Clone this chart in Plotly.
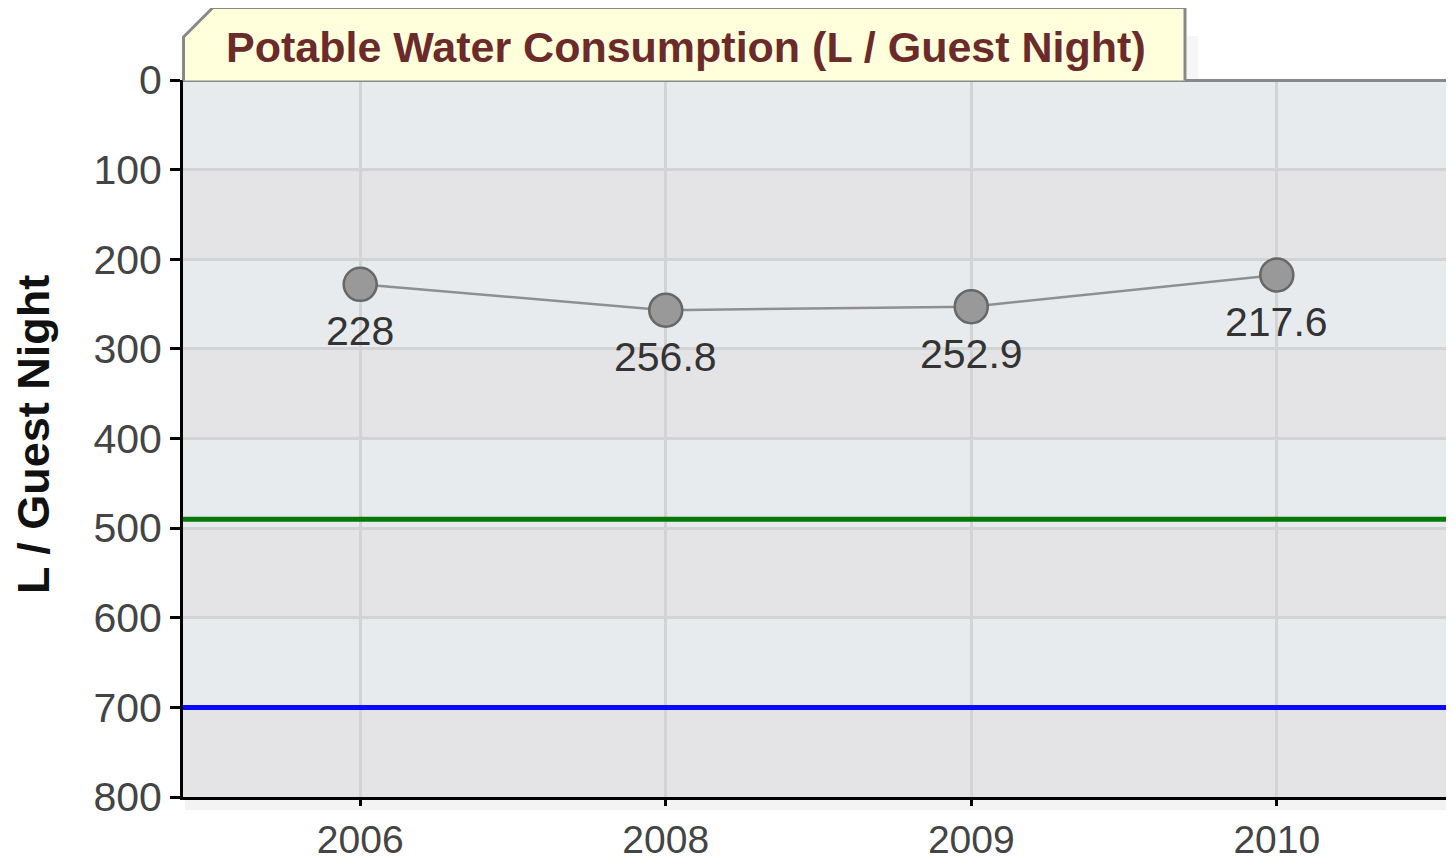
import plotly.graph_objects as go

# ---- data ----
years = ["2006", "2008", "2009", "2010"]
consumption = [228, 256.8, 252.9, 217.6]
consumption_labels = ["228", "256.8", "252.9", "217.6"]
benchmark_green = 490
benchmark_blue = 700
y_ticks = [0, 100, 200, 300, 400, 500, 600, 700, 800]
chart_title = "Potable Water Consumption (L / Guest Night)"
y_title = "L / Guest Night"

# ---- geometry (screen pixels; the page body adds an 8px margin) ----
OFF = 8
SW, SH = 1454, 862
W, H = SW - OFF, SH - OFF
PL, PR, PT, PB = 183, 1454, 80, 797          # plot area on screen
ML, MR, MT = PL - OFF, SW - PR, PT - OFF
MB = H - (PB - OFF)
PW, PH = PR - PL, PB - PT


def px(x):
    return (x - PL) / PW


def py(y):
    return (PB - y) / PH


FONT = "Liberation Sans, Arial, sans-serif"

fig = go.Figure()

fig.add_trace(go.Scatter(
    x=years, y=consumption, mode="lines+markers",
    line=dict(color="#8f8f8f", width=2.5),
    marker=dict(size=33, color="#999999", line=dict(color="#676767", width=2.5)),
    hoverinfo="skip", showlegend=False,
))

shapes = []
# alternating background bands
for i in range(len(y_ticks) - 1):
    shapes.append(dict(
        type="rect", xref="paper", yref="y", x0=0, x1=1,
        y0=y_ticks[i], y1=y_ticks[i + 1],
        fillcolor="#e8ebee" if i % 2 == 0 else "#e4e4e6",
        line=dict(width=0), layer="below",
    ))

# benchmark lines
shapes.append(dict(type="line", xref="paper", yref="y", x0=0, x1=1,
                   y0=benchmark_green, y1=benchmark_green,
                   line=dict(color="#067806", width=5), layer="above"))
shapes.append(dict(type="line", xref="paper", yref="y", x0=0, x1=1,
                   y0=benchmark_blue, y1=benchmark_blue,
                   line=dict(color="#0a0aff", width=5), layer="above"))

# shadow below x axis
shapes.append(dict(type="rect", xref="paper", yref="paper",
                   x0=px(185), x1=1, y0=py(810), y1=py(799),
                   fillcolor="#f3f3f3", line=dict(width=0), layer="below"))

# top border of plot area
shapes.append(dict(type="line", xref="paper", yref="paper", x0=px(183), x1=1,
                   y0=py(80.5), y1=py(80.5),
                   line=dict(color="#888888", width=3)))

# title tab shadow
shapes.append(dict(type="rect", xref="paper", yref="paper",
                   x0=px(1187), x1=px(1198), y0=py(79), y1=py(36),
                   fillcolor="#f6f6f6", line=dict(width=0)))

# title tab with cut corner
pts = [(183.5, 80.5), (183.5, 37), (213, 7.5), (1185, 7.5), (1185, 80.5)]
path = "M " + " L ".join(f"{px(a):.5f},{py(b):.5f}" for a, b in pts)
shapes.append(dict(type="path", xref="paper", yref="paper", path=path,
                   fillcolor="#ffffdc", line=dict(color="#888888", width=3)))

annotations = [
    dict(text=f"<b>{chart_title}</b>", xref="paper", yref="paper",
         x=px(686), y=py(47), xanchor="center", yanchor="middle",
         showarrow=False, font=dict(family=FONT, size=43, color="#6b2b2b")),
    dict(text=f"<b>{y_title}</b>", xref="paper", yref="paper",
         x=px(33), y=py(435), xanchor="center", yanchor="middle",
         textangle=-90, showarrow=False,
         font=dict(family=FONT, size=45, color="#111111")),
]
for i, (v, lab) in enumerate(zip(consumption, consumption_labels)):
    annotations.append(dict(
        text=lab, x=i, y=v, xref="x", yref="y", showarrow=False,
        yshift=-47, xanchor="center", yanchor="middle",
        font=dict(family=FONT, size=41, color="#333333"),
    ))

fig.update_layout(
    width=W, height=H,
    margin=dict(l=ML, r=MR, t=MT, b=MB, autoexpand=False),
    paper_bgcolor="white", plot_bgcolor="#e8ebee",
    shapes=shapes, annotations=annotations,
    font=dict(family=FONT),
)

fig.update_xaxes(
    type="category", range=[-0.58, 3.58],
    showgrid=True, gridcolor="#d3d3d3", gridwidth=3,
    showline=True, linecolor="black", linewidth=3,
    ticks="outside", ticklen=6, tickwidth=3, tickcolor="black",
    tickfont=dict(family=FONT, size=39, color="#444444"),
    zeroline=False, fixedrange=True, automargin=False,
)
fig.update_yaxes(
    range=[800, 0], tickmode="array", tickvals=y_ticks,
    ticktext=[str(t) for t in y_ticks],
    showgrid=True, gridcolor="#d3d3d3", gridwidth=3,
    showline=True, linecolor="black", linewidth=3,
    ticks="outside", ticklen=10, tickwidth=3, tickcolor="black",
    tickfont=dict(family=FONT, size=41, color="#444444"),
    zeroline=False, fixedrange=True, automargin=False,
)

fig.write_html("out.html", config={"displayModeBar": False})
